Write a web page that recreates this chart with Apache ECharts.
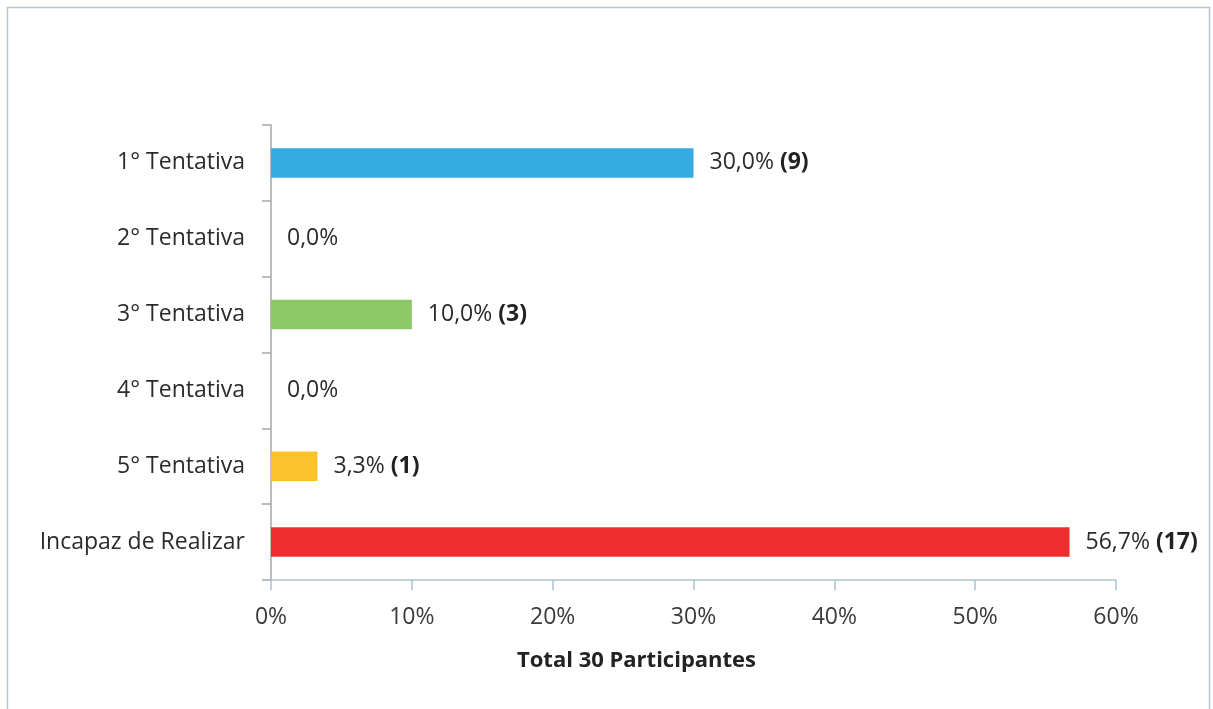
<!DOCTYPE html>
<html>
<head>
<meta charset="utf-8">
<script src="https://cdn.jsdelivr.net/npm/echarts@6/dist/echarts.min.js"></script>
<style>
html,body{margin:0;padding:0;background:#fff;}
#main{width:1213px;height:709px;}
</style>
</head>
<body>
<div id="main"></div>
<script>
const categories = ['1° Tentativa','2° Tentativa','3° Tentativa','4° Tentativa','5° Tentativa','Incapaz de Realizar'];
const percentages = [30.0, 0.0, 10.0, 0.0, 3.3, 56.7];
const counts = [9, null, 3, null, 1, 17];
const barColors = ['#36abe0','#36abe0','#8cc966','#8cc966','#fdc12c','#ee2e2e'];
const xTicks = [0, 10, 20, 30, 40, 50, 60];
const axisTitle = 'Total 30 Participantes';

const FONT = '"Open Sans", Lato, sans-serif';
const chart = echarts.init(document.getElementById('main'));
chart.setOption({
  backgroundColor: '#ffffff',
  animation: false,
  graphic: [
    {type:'rect', shape:{x:7.5,y:7.5,width:1202,height:760}, style:{fill:'none', stroke:'#b8c5cc', lineWidth:1.5}, z:-1},
    {type:'text', left:517, top:650, style:{text:axisTitle, font:'bold 22px ' + FONT, fill:'#222'}}
  ],
  grid: {left:271, right:97, top:125, bottom:129, containLabel:false},
  xAxis: {
    type:'value', min:xTicks[0], max:xTicks[xTicks.length-1], interval:10,
    axisLine:{show:true, lineStyle:{color:'#a9c3d2', width:1.5}},
    axisTick:{show:true, length:10, lineStyle:{color:'#a9c3d2', width:1.5}},
    splitLine:{show:false},
    axisLabel:{formatter:'{value}%', color:'#3a3a3a', fontSize:23, fontFamily:FONT, margin:26}
  },
  yAxis: {
    type:'category', data:categories, inverse:true,
    axisLine:{show:true, lineStyle:{color:'#a6a6a6', width:1.5}},
    axisTick:{show:true, length:9, lineStyle:{color:'#a6a6a6', width:1.5}},
    axisLabel:{color:'#2b2b2b', fontSize:23, fontFamily:FONT, margin:26}
  },
  series: [{
    type:'bar',
    data: percentages.map((v,i)=>({value:v, itemStyle:{color:barColors[i]}})),
    barCategoryGap:'61%',
    label:{
      show:true, position:'right', distance:16,
      fontFamily:FONT, fontSize:23, color:'#2b2b2b',
      formatter: p => {
        const pct = p.value.toFixed(1).replace('.', ',') + '%';
        const c = counts[p.dataIndex];
        return c == null ? pct : pct + ' {b|(' + c + ')}';
      },
      rich:{ b:{fontWeight:'bold', fontSize:23, fontFamily:FONT, color:'#222'} }
    }
  }]
});
</script>
</body>
</html>
